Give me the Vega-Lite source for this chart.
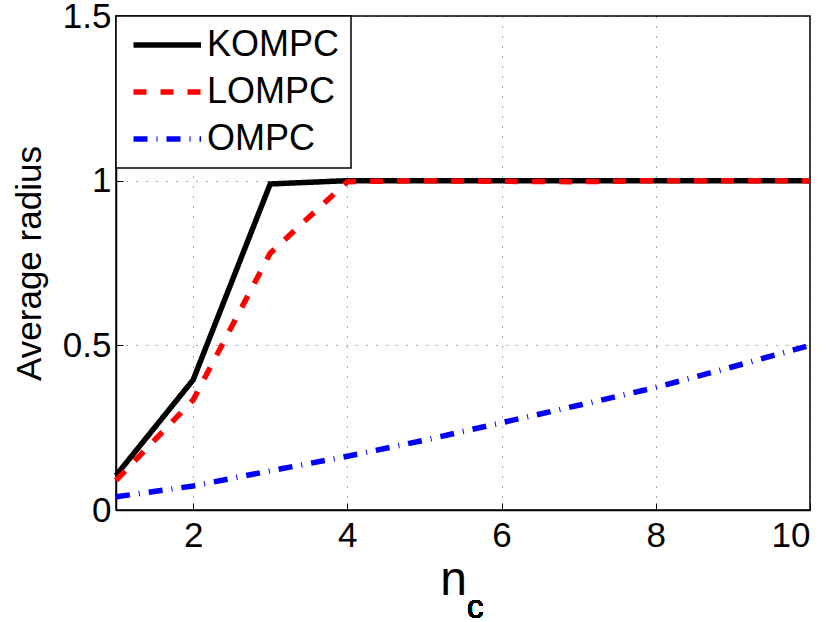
{
  "$schema": "https://vega.github.io/schema/vega-lite/v6.json",
  "width": 694,
  "height": 494,
  "autosize": {"type": "none"},
  "padding": {"left": 116, "top": 16, "right": 22, "bottom": 112},
  "background": "white",
  "config": {
    "font": "Liberation Sans",
    "view": {"stroke": "#000", "strokeWidth": 1.5},
    "axis": {
      "labelFont": "Liberation Sans",
      "labelFontSize": 35,
      "labelColor": "#000",
      "titleFont": "Liberation Sans",
      "titleColor": "#000",
      "titleFontWeight": "normal",
      "domainColor": "#000",
      "domainWidth": 1.5,
      "tickColor": "#000",
      "tickSize": -7,
      "tickWidth": 1,
      "grid": true,
      "gridColor": "#000",
      "gridOpacity": 0.7,
      "gridDash": [1, 9],
      "gridWidth": 1
    },
    "legend": {
      "orient": "top-left",
      "offset": 0,
      "symbolType": "M-1,0H4",
      "symbolSize": 729,
      "symbolStrokeWidth": 5.5,
      "symbolOffset": 2,
      "labelFont": "Liberation Sans",
      "labelFontSize": 36,
      "labelColor": "#000",
      "labelOffset": 42,
      "fillColor": "#fff",
      "strokeColor": "#000",
      "strokeWidth": 1.5,
      "padding": 11,
      "rowPadding": 11
    }
  },
  "data": {
    "values": [
      {"n": 1, "r": 0.105, "method": "KOMPC"},
      {"n": 2, "r": 0.395, "method": "KOMPC"},
      {"n": 3, "r": 0.99, "method": "KOMPC"},
      {"n": 4, "r": 1.0, "method": "KOMPC"},
      {"n": 5, "r": 1.0, "method": "KOMPC"},
      {"n": 6, "r": 1.0, "method": "KOMPC"},
      {"n": 7, "r": 1.0, "method": "KOMPC"},
      {"n": 8, "r": 1.0, "method": "KOMPC"},
      {"n": 9, "r": 1.0, "method": "KOMPC"},
      {"n": 10, "r": 1.0, "method": "KOMPC"},
      {"n": 1, "r": 0.09, "method": "LOMPC"},
      {"n": 2, "r": 0.334, "method": "LOMPC"},
      {"n": 3, "r": 0.78, "method": "LOMPC"},
      {"n": 4, "r": 0.997, "method": "LOMPC"},
      {"n": 5, "r": 1.0, "method": "LOMPC"},
      {"n": 6, "r": 0.998, "method": "LOMPC"},
      {"n": 7, "r": 0.997, "method": "LOMPC"},
      {"n": 8, "r": 1.0, "method": "LOMPC"},
      {"n": 9, "r": 1.0, "method": "LOMPC"},
      {"n": 10, "r": 1.0, "method": "LOMPC"},
      {"n": 1, "r": 0.04, "method": "OMPC"},
      {"n": 2, "r": 0.073, "method": "OMPC"},
      {"n": 3, "r": 0.119, "method": "OMPC"},
      {"n": 4, "r": 0.163, "method": "OMPC"},
      {"n": 5, "r": 0.212, "method": "OMPC"},
      {"n": 6, "r": 0.265, "method": "OMPC"},
      {"n": 7, "r": 0.318, "method": "OMPC"},
      {"n": 8, "r": 0.372, "method": "OMPC"},
      {"n": 9, "r": 0.435, "method": "OMPC"},
      {"n": 10, "r": 0.5, "method": "OMPC"}
    ]
  },
  "layer": [
    {
      "mark": {"type": "line", "strokeWidth": 5.5, "strokeCap": "butt", "strokeJoin": "miter"},
      "encoding": {
        "x": {
          "field": "n",
          "type": "quantitative",
          "scale": {"domain": [1, 10], "nice": false, "zero": false},
          "axis": {
            "values": [2, 4, 6, 8, 10],
            "format": "d",
            "labelPadding": 15,
            "title": "n",
            "titleFontSize": 48,
            "titleBaseline": "alphabetic",
            "titleAlign": "center",
            "titleX": 337,
            "titleY": 84
          }
        },
        "y": {
          "field": "r",
          "type": "quantitative",
          "scale": {"domain": [0, 1.5], "nice": false},
          "axis": {
            "values": [0, 0.5, 1, 1.5],
            "format": "~g",
            "labelPadding": 12,
            "title": "Average radius",
            "titleFontSize": 35,
            "titleAngle": 270,
            "titleBaseline": "alphabetic",
            "titleAlign": "center",
            "titleX": -76,
            "titleY": 247
          }
        },
        "color": {
          "field": "method",
          "type": "nominal",
          "scale": {"domain": ["KOMPC", "LOMPC", "OMPC"], "range": ["#000000", "#ff0000", "#0000ff"]},
          "legend": {"title": null}
        },
        "strokeDash": {
          "field": "method",
          "type": "nominal",
          "scale": {"domain": ["KOMPC", "LOMPC", "OMPC"], "range": [[1, 0], [13, 14], [14, 9, 1, 9]]},
          "legend": {"title": null}
        }
      }
    },
    {
      "mark": {"type": "text", "text": "c", "fontSize": 33, "font": "Liberation Sans", "align": "center", "baseline": "alphabetic", "color": "#000"},
      "encoding": {
        "x": {"datum": 5.66, "type": "quantitative"},
        "y": {"datum": -0.328, "type": "quantitative"}
      }
    }
  ]
}
